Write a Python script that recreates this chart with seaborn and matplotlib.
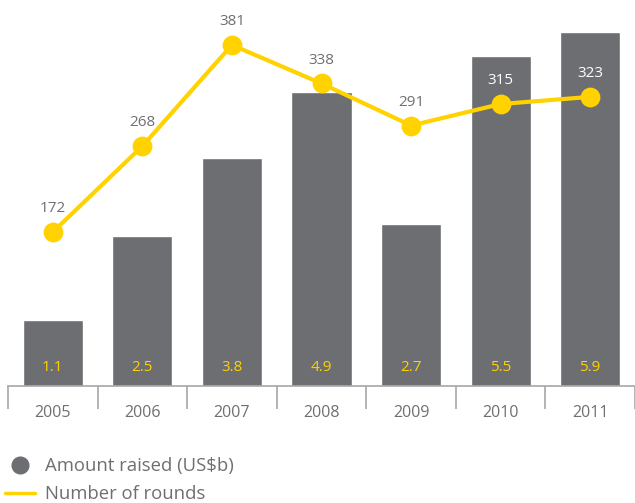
import matplotlib
matplotlib.use("Agg")
import matplotlib.pyplot as plt
from matplotlib.lines import Line2D
import seaborn as sns
import pandas as pd

years = ["2005", "2006", "2007", "2008", "2009", "2010", "2011"]
amount_raised = [1.1, 2.5, 3.8, 4.9, 2.7, 5.5, 5.9]
rounds = [172, 268, 381, 338, 291, 315, 323]

GREY = "#6d6e71"
YELLOW = "#ffd200"
TEXT_GREY = "#6f6f71"
AXIS_GREY = "#a7a7a9"

sns.set_theme(style="white")
plt.rcParams["font.family"] = ["Open Sans", "DejaVu Sans"]

df = pd.DataFrame({"year": years, "amount": amount_raised, "rounds": rounds})

fig = plt.figure(figsize=(6.35, 5.03), dpi=100)
W, H = 635, 503
ax = fig.add_axes([8 / W, (H - 386) / H, 627 / W, 378 / H])

sns.barplot(data=df, x="year", y="amount", order=years, color=GREY,
            saturation=1, width=0.67, ax=ax)
ax.set_ylim(0, 6.3)

for i, v in enumerate(amount_raised):
    ax.text(i, 0.31, f"{v:.1f}", ha="center", va="center",
            color=YELLOW, fontsize=11)

ax2 = ax.twinx()
sns.pointplot(data=df, x="year", y="rounds", order=years, color=YELLOW,
              markers="o", markersize=12, linewidth=3, ax=ax2)
ax2.set_ylim(0, 422.3)

for i, v in enumerate(rounds):
    inside = amount_raised[i] * 60 > (v * 0.895 + 30)
    ax2.text(i, v + 26, f"{v}", ha="center", va="center",
             color="white" if inside else TEXT_GREY, fontsize=11)

for a in (ax, ax2):
    a.set_xlabel("")
    a.set_ylabel("")
    a.set_yticks([])
    for s in a.spines.values():
        s.set_visible(False)

ax.spines["bottom"].set_visible(True)
ax.spines["bottom"].set_color(AXIS_GREY)
ax.spines["bottom"].set_linewidth(1.2)

# year labels centred under the bars, separators hanging below the baseline
ax.set_xlim(-0.5, 6.5)
ax.set_xticks(range(len(years)))
ax.set_xticklabels(years)
ax.set_xticks([i - 0.5 for i in range(len(years) + 1)], minor=True)
ax.tick_params(axis="x", which="minor", length=16.5, width=1.2,
               color=AXIS_GREY, direction="out", bottom=True)
ax.tick_params(axis="x", which="major", length=0, pad=14, bottom=True,
               labelbottom=True, labelsize=11.5, labelcolor=TEXT_GREY)
ax2.tick_params(axis="x", which="both", labelbottom=False, labeltop=False)

handles = [
    Line2D([], [], marker="o", linestyle="none", markersize=12,
           markerfacecolor=GREY, markeredgecolor=GREY),
    Line2D([], [], color=YELLOW, linewidth=2.5),
]
fig.legend(handles, ["Amount raised (US$b)", "Number of rounds"],
           loc="upper left", bbox_to_anchor=(5 / W, 1 - 457 / H),
           frameon=False, fontsize=13.3, labelcolor=TEXT_GREY,
           handlelength=1.6, handletextpad=0.55, labelspacing=0.55,
           borderaxespad=0, borderpad=0)

fig.savefig("out.png", dpi=100)
